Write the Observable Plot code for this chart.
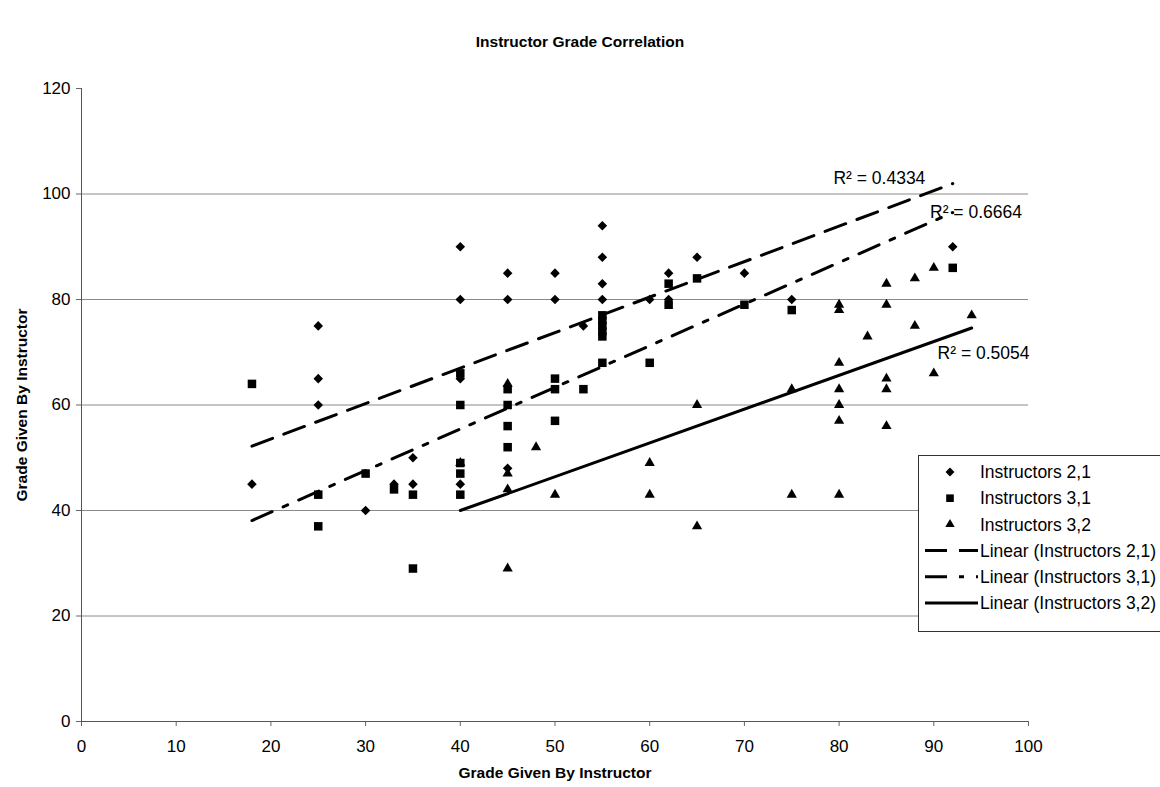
<!DOCTYPE html>
<html>
<head>
<meta charset="utf-8">
<script src="https://cdn.jsdelivr.net/npm/d3@7"></script>
<script src="https://cdn.jsdelivr.net/npm/@observablehq/plot@0.6"></script>
<style>
html,body{margin:0;padding:0;background:#fff;overflow:hidden}
#wrap{position:relative;width:1160px;height:787px;overflow:hidden;font-family:"Liberation Sans",Arial,sans-serif}
#title{position:absolute;left:0;top:32px;width:1160px;text-align:center;font-weight:bold;font-size:15.5px;line-height:20px;color:#000}
#chart{position:absolute;left:0;top:60px}
#legend{position:absolute;left:918px;top:455px}
</style>
</head>
<body>
<div id="wrap"><div id="title"></div><div id="chart"></div><svg id="legend" width="242" height="178"></svg></div>
<script>
const title = "Instructor Grade Correlation";
const xLabel = "Grade Given By Instructor";
const yLabel = "Grade Given By Instructor";
const seriesNames = ["Instructors 2,1", "Instructors 3,1", "Instructors 3,2"];
const trendNames = ["Linear (Instructors 2,1)", "Linear (Instructors 3,1)", "Linear (Instructors 3,2)"];

// Instructors 2,1 (diamonds)
const x21 = [18, 25, 25, 25, 30, 33, 35, 35, 40, 40, 40, 40, 45, 45, 45, 50, 50, 53, 55, 55, 55, 55, 60, 62, 62, 65, 70, 75, 92];
const y21 = [45, 75, 65, 60, 40, 45, 50, 45, 90, 80, 65, 45, 85, 80, 48, 85, 80, 75, 94, 88, 83, 80, 80, 85, 80, 88, 85, 80, 90];
// Instructors 3,1 (squares)
const x31 = [18, 25, 25, 30, 33, 35, 35, 40, 40, 40, 40, 40, 45, 45, 45, 45, 50, 50, 50, 53, 55, 55, 55, 55, 55, 55, 60, 62, 62, 65, 70, 75, 92];
const y31 = [64, 43, 37, 47, 44, 43, 29, 66, 60, 49, 47, 43, 63, 60, 56, 52, 65, 63, 57, 63, 77, 76, 75, 74, 73, 68, 68, 83, 79, 84, 79, 78, 86];
// Instructors 3,2 (triangles)
const x32 = [40, 45, 45, 45, 45, 48, 50, 60, 60, 65, 65, 75, 75, 80, 80, 80, 80, 80, 80, 80, 83, 85, 85, 85, 85, 85, 88, 88, 90, 90, 94];
const y32 = [49, 64, 47, 44, 29, 52, 43, 49, 43, 60, 37, 63, 43, 79, 78, 68, 63, 60, 57, 43, 73, 83, 79, 65, 63, 56, 84, 75, 86, 66, 77];

const r2Text = ["R\u00B2 = 0.4334", "R\u00B2 = 0.6664", "R\u00B2 = 0.5054"];
const r2X = [79.4, 89.6, 90.4];
const r2Y = [103, 96.5, 69.8];

const xTicks = [0, 10, 20, 30, 40, 50, 60, 70, 80, 90, 100];
const yTicks = [0, 20, 40, 60, 80, 100, 120];

document.getElementById("title").textContent = title;

const rows = (xs, ys, s) => xs.map((x, i) => ({x, y: ys[i], s}));
const d21 = rows(x21, y21, seriesNames[0]);
const d31 = rows(x31, y31, seriesNames[1]);
const d32 = rows(x32, y32, seriesNames[2]);
const r2 = r2Text.map((t, i) => ({t, x: r2X[i], y: r2Y[i]}));

const dash21 = "22,12";
const dash31 = "22,12,5,12";
const font = "'Liberation Sans', Arial, sans-serif";

const chart = Plot.plot({
  width: 1160,
  height: 727,
  marginLeft: 81,
  marginRight: 132,
  marginTop: 28,
  marginBottom: 66,
  x: {domain: [0, 100]},
  y: {domain: [0, 120]},
  style: {fontFamily: font, background: "#fff", color: "#000"},
  marks: [
    Plot.ruleY(yTicks.filter(d => d > 0 && d < 120), {stroke: "#8a8a8a", strokeWidth: 1}),
    Plot.axisX({ticks: xTicks, tickSize: 5, tickPadding: 13, fontSize: 17, label: null, stroke: "#666"}),
    Plot.axisY({ticks: yTicks, tickSize: 5, tickPadding: 6, fontSize: 17, label: null, stroke: "#666"}),
    Plot.ruleY([0], {stroke: "#555", strokeWidth: 1}),
    Plot.ruleX([0], {stroke: "#555", strokeWidth: 1}),
    Plot.dot(d32, {x: "x", y: "y", symbol: "triangle", r: 3.8, fill: "#000", stroke: "none"}),
    Plot.dot(d31, {x: "x", y: "y", symbol: "square", r: 4.8, fill: "#000", stroke: "none"}),
    Plot.dot(d21, {x: "x", y: "y", symbol: "diamond2", r: 4.3, fill: "#000", stroke: "none"}),
    Plot.linearRegressionY(d21, {x: "x", y: "y", ci: 0, stroke: "#000", strokeWidth: 3, strokeDasharray: dash21}),
    Plot.linearRegressionY(d31, {x: "x", y: "y", ci: 0, stroke: "#000", strokeWidth: 3, strokeDasharray: dash31}),
    Plot.linearRegressionY(d32, {x: "x", y: "y", ci: 0, stroke: "#000", strokeWidth: 3}),
    Plot.text(r2, {x: "x", y: "y", text: "t", textAnchor: "start", fontSize: 17.5, fill: "#000"}),
    Plot.text([xLabel], {frameAnchor: "bottom", dy: 56, textAnchor: "middle", fontWeight: "bold", fontSize: 15.5, fill: "#000"}),
    Plot.text([yLabel], {frameAnchor: "left", dx: -59, textAnchor: "middle", rotate: -90, fontWeight: "bold", fontSize: 15.5, fill: "#000"})
  ]
});
document.getElementById("chart").appendChild(chart);

// Legend
const lg = d3.select("#legend");
lg.append("rect").attr("x", 0.5).attr("y", 0.5).attr("width", 300).attr("height", 176)
  .attr("fill", "#fff").attr("stroke", "#333").attr("stroke-width", 1);
const rowY = i => 17 + i * 26.2;
const symbols = [d3.symbolDiamond2, d3.symbolSquare, d3.symbolTriangle];
const symSizes = [Math.PI * 4.0 * 4.0, Math.PI * 4.3 * 4.3, Math.PI * 3.5 * 3.5];
seriesNames.forEach((name, i) => {
  lg.append("path").attr("d", d3.symbol(symbols[i], symSizes[i])())
    .attr("transform", `translate(32,${rowY(i)})`).attr("fill", "#000");
  lg.append("text").attr("x", 62).attr("y", rowY(i)).attr("dy", "0.35em")
    .attr("font-size", 17.5).attr("font-family", font).text(name);
});
const dashes = [dash21, dash31, null];
trendNames.forEach((name, j) => {
  const i = j + 3;
  const ln = lg.append("line").attr("x1", 7).attr("x2", 60).attr("y1", rowY(i)).attr("y2", rowY(i))
    .attr("stroke", "#000").attr("stroke-width", 3);
  if (dashes[j]) ln.attr("stroke-dasharray", dashes[j]);
  lg.append("text").attr("x", 62).attr("y", rowY(i)).attr("dy", "0.35em")
    .attr("font-size", 17.5).attr("font-family", font).text(name);
});
</script>
</body>
</html>
